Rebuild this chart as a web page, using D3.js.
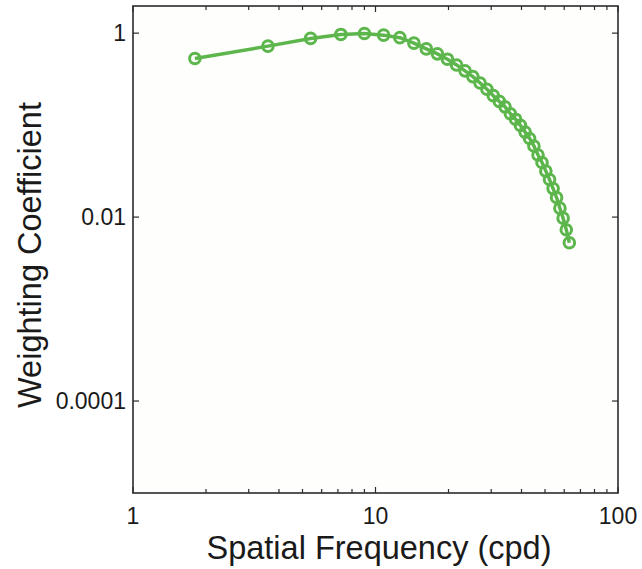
<!DOCTYPE html>
<html><head><meta charset="utf-8">
<script src="https://cdn.jsdelivr.net/npm/d3@7"></script>
<style>body{margin:0;background:#fff;}svg{display:block;font-family:"Liberation Sans",Arial,sans-serif;}</style>
</head><body>
<svg id="chart" width="642" height="569"></svg>
<script>
// Spatial frequencies (cpd)
const frequencies = [1.8,3.6,5.4,7.2,9.0,10.8,12.6,14.4,16.2,18.0,19.8,21.6,23.4,25.2,27.0,28.8,30.6,32.4,34.2,36.0,37.8,39.6,41.4,43.2,45.0,46.8,48.6,50.4,52.2,54.0,55.8,57.6,59.4,61.2,63.0];
// Weighting coefficients
const weights = [0.530,0.722,0.876,0.968,0.992,0.951,0.893,0.778,0.674,0.595,0.521,0.451,0.389,0.337,0.287,0.245,0.209,0.181,0.158,0.133,0.116,0.0993,0.0839,0.0716,0.0593,0.0473,0.0392,0.0316,0.0256,0.0204,0.0163,0.0125,0.00973,0.00729,0.00526];
const xTickValues = [1,10,100];
const xTickLabels = ["1","10","100"];
const yTickValues = [1,0.01,0.0001];
const yTickLabels = ["1","0.01","0.0001"];
const xTitle = "Spatial Frequency (cpd)";
const yTitle = "Weighting Coefficient";

const data = frequencies.map((f,i)=>({f, w: weights[i]}));
const svg = d3.select("#chart");
const L=133, R=618, T=6, B=493;
const x = d3.scaleLog().domain([1,100]).range([L,R]);
const y = d3.scaleLog().domain([1e-5, Math.pow(10,0.295)]).range([B,T]);
const axisColor = "#2b2b2b";
const textColor = "#1a1a1a";

// plot background
svg.append("rect").attr("x",L).attr("y",T).attr("width",R-L).attr("height",B-T).attr("fill","#fefefc");

// ticks
const minorX = [];
for (let d=1; d<100; d*=10) for (let m=2;m<=9;m++) minorX.push(d*m);
const tickG = svg.append("g").attr("stroke",axisColor).attr("stroke-width",1.2);
minorX.forEach(v=>{
  tickG.append("line").attr("x1",x(v)).attr("x2",x(v)).attr("y1",B).attr("y2",B-4);
  tickG.append("line").attr("x1",x(v)).attr("x2",x(v)).attr("y1",T).attr("y2",T+4);
});
xTickValues.forEach(v=>{
  tickG.append("line").attr("x1",x(v)).attr("x2",x(v)).attr("y1",B).attr("y2",B-6);
  tickG.append("line").attr("x1",x(v)).attr("x2",x(v)).attr("y1",T).attr("y2",T+6);
});
yTickValues.forEach(v=>{
  tickG.append("line").attr("x1",L).attr("x2",L+6).attr("y1",y(v)).attr("y2",y(v));
  tickG.append("line").attr("x1",R).attr("x2",R-6).attr("y1",y(v)).attr("y2",y(v));
});

// frame
svg.append("rect").attr("x",L).attr("y",T).attr("width",R-L).attr("height",B-T)
  .attr("fill","none").attr("stroke",axisColor).attr("stroke-width",1.6);

// tick labels
svg.append("g").selectAll("text").data(xTickValues).join("text")
  .attr("x",d=>x(d)).attr("y",B+31).attr("text-anchor","middle")
  .attr("font-size",23).attr("fill",textColor).text((d,i)=>xTickLabels[i]);
svg.append("g").selectAll("text").data(yTickValues).join("text")
  .attr("x",L-7).attr("y",d=>y(d)).attr("dy","0.36em").attr("text-anchor","end")
  .attr("font-size",23).attr("fill",textColor).text((d,i)=>yTickLabels[i]);

// titles
svg.append("text").attr("x",379).attr("y",559).attr("text-anchor","middle")
  .attr("font-size",32.5).attr("fill",textColor).text(xTitle);
svg.append("text").attr("transform","translate(41,255) rotate(-90)").attr("text-anchor","middle")
  .attr("font-size",32.5).attr("fill",textColor).text(yTitle);

// series
const green = "#5cb64c";
const line = d3.line().x(d=>x(d.f)).y(d=>y(d.w));
svg.append("path").datum(data).attr("d",line).attr("fill","none")
  .attr("stroke",green).attr("stroke-width",3.5).attr("stroke-linejoin","round");
svg.append("g").selectAll("circle").data(data).join("circle")
  .attr("cx",d=>x(d.f)).attr("cy",d=>y(d.w)).attr("r",5.3)
  .attr("fill","none").attr("stroke",green).attr("stroke-width",3);
</script>
</body></html>
